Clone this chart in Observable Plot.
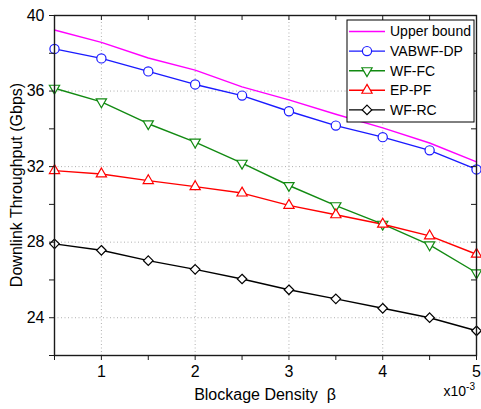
<!DOCTYPE html>
<html><head><meta charset="utf-8">
<script src="https://cdn.jsdelivr.net/npm/d3@7"></script>
<script src="https://cdn.jsdelivr.net/npm/@observablehq/plot@0.6"></script>
<style>
body{margin:0;background:#fff;}
#chart{position:relative;width:481px;height:409px;}
</style>
</head><body><div id="chart"></div>
<script>
const beta = [0.5, 1, 1.5, 2, 2.5, 3, 3.5, 4, 4.5, 5];
const upperBound = [39.23, 38.58, 37.75, 37.11, 36.22, 35.53, 34.77, 34.05, 33.25, 32.25];
const vabwfDP   = [38.23, 37.73, 37.04, 36.35, 35.76, 34.93, 34.17, 33.56, 32.86, 31.85];
const wfFC      = [36.15, 35.43, 34.27, 33.30, 32.18, 31.00, 29.93, 28.95, 27.86, 26.38];
const epPF      = [31.79, 31.61, 31.26, 30.94, 30.60, 29.95, 29.45, 28.95, 28.33, 27.36];
const wfRC      = [27.91, 27.57, 27.02, 26.56, 26.05, 25.48, 25.00, 24.50, 24.00, 23.31];

const seriesNames = ["Upper bound", "VABWF-DP", "WF-FC", "EP-PF", "WF-RC"];
const seriesValues = [upperBound, vabwfDP, wfFC, epPF, wfRC];
const seriesColors = ["#ff00ff", "#1a1aff", "#128a12", "#ff0000", "#000000"];
const seriesSymbols = [null, "circle", "triangle", "triangle", "diamond2"];
const seriesRotate = [0, 0, 180, 0, 0];
const seriesR = [0, 4.6, 3.8, 3.8, 4.3];

const xTickValues = [0.5, 1, 1.5, 2, 2.5, 3, 3.5, 4, 4.5, 5];
const xMajor = [1, 2, 3, 4, 5];
const xGrid = [1, 2, 3, 4];
const yTickValues = [22, 24, 26, 28, 30, 32, 34, 36, 38, 40];
const yMajor = [24, 28, 32, 36, 40];
const yGrid = [24, 28, 32, 36];

const rows = seriesNames.flatMap((s, i) => beta.map((b, j) => ({series: s, beta: b, value: seriesValues[i][j]})));

const W = 481, H = 409, mL = 54, mR = 5, mT = 15, mB = 54;
const innerW = W - mL - mR, innerH = H - mT - mB;
const FONT = "Liberation Sans, Arial, sans-serif";

const dotMarks = seriesNames.map((s, i) => seriesSymbols[i] ? Plot.dot(rows.filter(d => d.series === s), {
  x: "beta", y: "value", symbol: () => seriesSymbols[i], r: seriesR[i], rotate: seriesRotate[i],
  stroke: seriesColors[i], fill: "white", strokeWidth: 1.2
}) : null).filter(Boolean);

const plot = Plot.plot({
  width: W, height: H,
  marginLeft: mL, marginRight: mR, marginTop: mT, marginBottom: mB,
  style: {fontFamily: FONT, fontSize: "16px", color: "#000", background: "#fff"},
  x: {domain: [0.5, 5]},
  y: {domain: [22, 40]},
  symbol: {type: "identity"},
  marks: [
    Plot.gridX(xGrid, {stroke: "#b0b0b0", strokeOpacity: 1, strokeDasharray: "1,2.5"}),
    Plot.gridY(yGrid, {stroke: "#b0b0b0", strokeOpacity: 1, strokeDasharray: "1,2.5"}),
    ...seriesNames.map((s, i) => Plot.line(rows.filter(d => d.series === s), {x: "beta", y: "value", stroke: seriesColors[i], strokeWidth: 1.4})),
    ...dotMarks,
    Plot.frame({stroke: "#1a1a1a", strokeWidth: 1.4}),
    Plot.axisX(xTickValues, {anchor: "bottom", tickSize: 5, tickPadding: 5, tickFormat: d => xMajor.includes(d) ? String(d) : "", label: null, fontSize: 16, stroke: "#1a1a1a"}),
    Plot.axisY(yTickValues, {anchor: "left", tickSize: 5, tickPadding: 5, tickFormat: d => yMajor.includes(d) ? String(d) : "", label: null, fontSize: 16, stroke: "#1a1a1a"}),
    Plot.tickX(xTickValues, {x: d => d, insetBottom: innerH - 5, stroke: "#1a1a1a"}),
    Plot.tickY(yTickValues, {y: d => d, insetLeft: innerW - 5, stroke: "#1a1a1a"})
  ]
});
document.getElementById("chart").appendChild(plot);

const svg = d3.select(plot);
const txt = (sel) => sel.attr("text-anchor", "start").style("font-family", FONT).attr("fill", "#000");

// axis titles
svg.append("text").attr("x", (mL + W - mR) / 2).attr("y", 400).attr("text-anchor", "middle")
  .style("font-family", FONT).style("font-size", "16px").attr("fill", "#000").text("Blockage Density  β");
svg.append("text").attr("transform", `translate(16,${(mT + H - mB) / 2}) rotate(-90)`).attr("text-anchor", "middle")
  .attr("dy", "0.35em").style("font-family", FONT).style("font-size", "16px").attr("fill", "#000").text("Downlink Throughput (Gbps)");

// x10^-3 exponent note
const ex = svg.append("text").attr("x", W - 6).attr("y", 396).attr("text-anchor", "end")
  .style("font-family", FONT).style("font-size", "14px").attr("fill", "#000");
ex.append("tspan").text("x10");
ex.append("tspan").attr("dy", -6).style("font-size", "10px").text("-3");

// Legend
const lg = svg.append("g").attr("transform", "translate(347,20)");
lg.append("rect").attr("width", 127).attr("height", 102).attr("fill", "white").attr("stroke", "#000").attr("stroke-width", 1);
seriesNames.forEach((s, i) => {
  const y = 11.5 + i * 19.6;
  lg.append("line").attr("x1", 2).attr("x2", 38).attr("y1", y).attr("y2", y).attr("stroke", seriesColors[i]).attr("stroke-width", 1.4);
  if (seriesSymbols[i]) {
    const sym = {circle: d3.symbolCircle, triangle: d3.symbolTriangle, diamond2: d3.symbolDiamond2}[seriesSymbols[i]];
    lg.append("path").attr("d", d3.symbol(sym, Math.PI * seriesR[i] * seriesR[i])())
      .attr("transform", `translate(20,${y}) rotate(${seriesRotate[i]})`)
      .attr("fill", "white").attr("stroke", seriesColors[i]).attr("stroke-width", 1.2);
  }
  txt(lg.append("text")).attr("x", 43).attr("y", y).attr("dy", "0.35em").style("font-size", "14px").text(s);
});
</script>
</body></html>
